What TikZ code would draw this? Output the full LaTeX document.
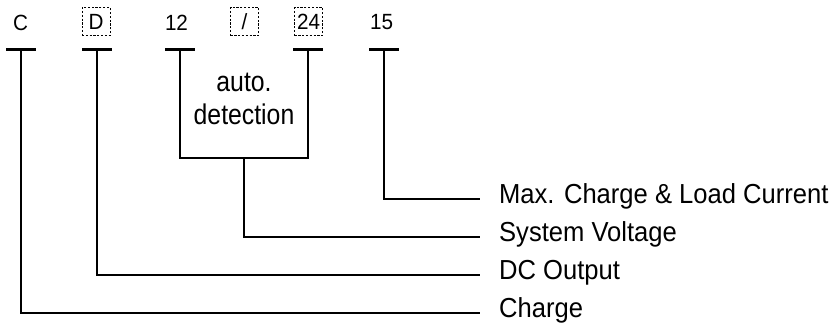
\documentclass[tikz,border=0pt]{standalone}
\usepackage{fontspec}
\setmainfont{Liberation Sans}
\newfontfamily\lblfont[FakeStretch=0.93]{Liberation Sans}
\newfontfamily\notefont[FakeStretch=0.87]{Liberation Sans}
\newfontfamily\topfont[FakeStretch=0.94]{Liberation Sans}
\begin{document}
\begin{tikzpicture}[x=1pt,y=-1pt,line width=2.3pt,
  toplbl/.style={font=\topfont\fontsize{22}{25}\selectfont,inner sep=0pt,anchor=center},
  dbox/.style={toplbl,draw,dashed,line width=0.8pt,dash pattern=on 2.2pt off 1.6pt,minimum width=28pt,minimum height=28pt},
  bar/.style={line width=2.6pt},
  conn/.style={line width=2.3pt,line join=miter},
  lbl/.style={font=\lblfont\fontsize{27.5}{33}\selectfont,anchor=west,inner sep=0pt,text height=19pt,text depth=11pt},
  note/.style={font=\notefont\fontsize{28.5}{33}\selectfont,align=center,inner sep=0pt}]
\useasboundingbox (0,0) rectangle (834,325);
% top code letters
\node[toplbl] (c)   at (20.5,22.5) {C};
\node[dbox]   (d)   at (96,21.5) {D};
\node[toplbl] (v12) at (176.5,22.5) {12};
\node[dbox]   (sl)  at (244.5,21.5) {/};
\node[dbox]   (v24) at (308.5,21.5) {24};
\node[toplbl] (v15) at (381.5,22.5) {15};
% T-bar tops
\coordinate (tC)  at (21,49.5);
\coordinate (tD)  at (97,49.5);
\coordinate (t12) at (180,49.5);
\coordinate (t24) at (308,49.5);
\coordinate (t15) at (384,49.5);
\foreach \p in {tC,tD,t12,t24,t15}
  \draw[bar] ([xshift=-15pt]\p) -- ([xshift=15pt]\p);
% auto detection bracket
\node[note] (auto) at (244,99) {auto.\\detection};
\coordinate (bl) at (180,158);
\coordinate (br) at (308,158);
\coordinate (bm) at (244,158);
\draw[conn] (t12) -- (bl) -- (br) -- (t24);
% labels
\node[lbl] (lmax) at (498,199) {Max. Charge \& Load Current};
\node[lbl] (lsys) at (498,237) {System Voltage};
\node[lbl] (ldc)  at (498,275) {DC Output};
\node[lbl] (lch)  at (498,313) {Charge};
% connectors
\draw[conn] (t15) |- ([xshift=-18pt]lmax.west);
\draw[conn] (bm)  |- ([xshift=-18pt]lsys.west);
\draw[conn] (tD)  |- ([xshift=-18pt]ldc.west);
\draw[conn] (tC)  |- ([xshift=-18pt]lch.west);
\end{tikzpicture}
\end{document}
